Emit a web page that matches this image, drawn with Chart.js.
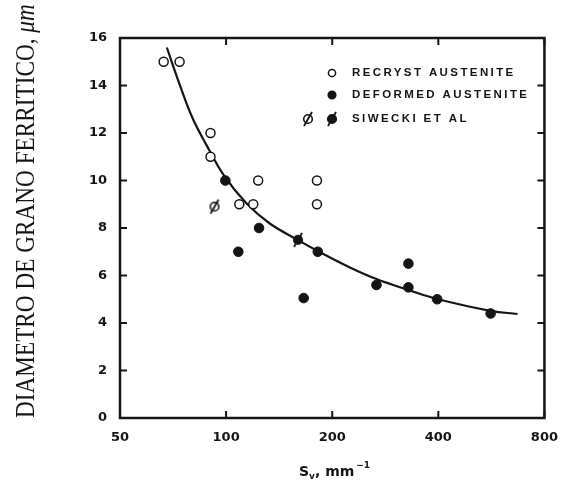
<!DOCTYPE html>
<html lang="es">
<head>
<meta charset="UTF-8">
<title>Diametro de grano ferritico vs Sv</title>
<script src="https://cdn.jsdelivr.net/npm/chart.js"></script>
<style>
  html, body { margin: 0; padding: 0; background: #fff; }
  #wrap { width: 570px; height: 491px; }
</style>
</head>
<body>
<div id="wrap"><canvas id="grainChart" width="570" height="491"></canvas></div>
<script>
// tick labels
const xTicks = [50, 100, 200, 400, 800];
const yTicks = [0, 2, 4, 6, 8, 10, 12, 14, 16];

// recrystallized austenite (open circles)
const recrystX = [66.5, 73.8, 90.3, 90.3, 123.3, 109, 119.4, 181, 181];
const recrystY = [15, 15, 12, 11, 10, 9, 9, 10, 9];

// deformed austenite (filled circles)
const deformedX = [99.5, 124, 108.3, 182, 166, 267, 329, 329, 397, 563];
const deformedY = [10, 8, 7, 7, 5.05, 5.6, 6.5, 5.5, 5, 4.4];

// Siwecki et al (slashed symbols)
const siweckiOpenX = [92.7];
const siweckiOpenY = [8.9];
const siweckiFilledX = [160];
const siweckiFilledY = [7.5];

// fitted curve
const curveX = [67.9, 73.8, 80.3, 88, 98.8, 114, 132.4, 160, 182, 223, 267, 329, 397, 563, 671];
const curveY = [15.6, 14.05, 12.63, 11.49, 10.19, 9.05, 8.21, 7.49, 7.03, 6.36, 5.85, 5.39, 5.01, 4.51, 4.38];

const ink = '#151515';

function pts(xs, ys) {
    return xs.map((x, i) => ({ x: x, y: ys[i] }));
}

// slashed circle symbol
function slashed(filled) {
    const c = document.createElement('canvas');
    c.width = 18; c.height = 18;
    const g = c.getContext('2d');
    g.strokeStyle = ink;
    g.fillStyle = filled ? ink : '#fff';
    g.lineWidth = 1.6;
    g.beginPath();
    g.arc(9, 9, 4.3, 0, Math.PI * 2);
    g.fill();
    g.stroke();
    g.lineWidth = 1.8;
    g.beginPath();
    g.moveTo(5, 16);
    g.lineTo(13, 2);
    g.stroke();
    return c;
}
const slashOpen = slashed(false);
const slashFilled = slashed(true);

function drawCircle(ctx, x, y, r, filled) {
    ctx.beginPath();
    ctx.arc(x, y, r, 0, Math.PI * 2);
    ctx.fillStyle = filled ? ink : '#fff';
    ctx.fill();
    ctx.lineWidth = 1.5;
    ctx.strokeStyle = ink;
    ctx.stroke();
}

const framePlugin = {
    id: 'frame',
    afterDraw(chart) {
        const ctx = chart.ctx;
        const a = chart.chartArea;
        const sx = chart.scales.x;
        const sy = chart.scales.y;
        ctx.save();

        // frame
        ctx.strokeStyle = ink;
        ctx.lineWidth = 2.5;
        ctx.strokeRect(a.left, a.top, a.right - a.left, a.bottom - a.top);

        // inward ticks on all sides
        ctx.lineWidth = 2;
        const tl = 7;
        yTicks.forEach(v => {
            const y = sy.getPixelForValue(v);
            ctx.beginPath();
            ctx.moveTo(a.left, y); ctx.lineTo(a.left + tl, y);
            ctx.moveTo(a.right, y); ctx.lineTo(a.right - tl, y);
            ctx.stroke();
        });
        xTicks.forEach(v => {
            const x = sx.getPixelForValue(v);
            ctx.beginPath();
            ctx.moveTo(x, a.bottom); ctx.lineTo(x, a.bottom - tl);
            ctx.moveTo(x, a.top); ctx.lineTo(x, a.top + tl);
            ctx.stroke();
        });

        // legend
        const lx = 352;
        const rows = [73, 95, 119];
        drawCircle(ctx, 332, rows[0], 3.6, false);
        drawCircle(ctx, 332, rows[1], 3.8, true);
        ctx.drawImage(slashOpen, 308 - 9, rows[2] - 9);
        ctx.drawImage(slashFilled, 332 - 9, rows[2] - 9);
        ctx.fillStyle = ink;
        ctx.font = 'bold 11.5px "Liberation Sans"';
        ctx.letterSpacing = '2.4px';
        ctx.textAlign = 'left';
        ctx.textBaseline = 'middle';
        ctx.fillText('RECRYST AUSTENITE', lx, rows[0]);
        ctx.fillText('DEFORMED AUSTENITE', lx, rows[1]);
        ctx.fillText('SIWECKI ET AL', lx, rows[2]);
        ctx.letterSpacing = '0px';

        // x axis title: S_v, mm^-1
        ctx.font = 'bold 14px "DejaVu Sans"';
        ctx.textBaseline = 'alphabetic';
        let tx = 299;
        const by = 476;
        ctx.fillText('S', tx, by);
        tx += ctx.measureText('S').width;
        ctx.font = 'bold 9px "DejaVu Sans"';
        ctx.fillText('v', tx, by + 3);
        tx += ctx.measureText('v').width;
        ctx.font = 'bold 14px "DejaVu Sans"';
        ctx.fillText(', mm', tx, by);
        tx += ctx.measureText(', mm').width + 2;
        ctx.font = 'bold 9px "DejaVu Sans"';
        ctx.fillText('\u22121', tx, by - 8);

        // y axis title, rotated
        const t1 = 'DIAMETRO DE GRANO FERRITICO, ';
        const t2 = '\u03bcm';
        ctx.font = '20px "Liberation Serif"';
        const w1 = ctx.measureText(t1).width;
        ctx.font = 'italic 20px "Liberation Serif"';
        const w2 = ctx.measureText(t2).width;
        const fs = 20 * 414 / (w1 + w2);
        ctx.translate(34, 418);
        ctx.rotate(-Math.PI / 2);
        ctx.scale(1, 1.15);
        ctx.font = fs + 'px "Liberation Serif"';
        ctx.fillText(t1, 0, 0);
        const w1s = ctx.measureText(t1).width;
        ctx.font = 'italic ' + fs + 'px "Liberation Serif"';
        ctx.fillText(t2, w1s, 0);

        ctx.restore();
    }
};

const ctx = document.getElementById('grainChart').getContext('2d');

new Chart(ctx, {
    type: 'scatter',
    data: {
        datasets: [
            {
                label: 'RECRYST AUSTENITE',
                data: pts(recrystX, recrystY),
                pointStyle: 'circle',
                pointRadius: 4.5,
                backgroundColor: '#fff',
                borderColor: ink,
                borderWidth: 1.5
            },
            {
                label: 'DEFORMED AUSTENITE',
                data: pts(deformedX, deformedY),
                pointStyle: 'circle',
                pointRadius: 4.8,
                backgroundColor: ink,
                borderColor: ink,
                borderWidth: 1
            },
            {
                label: 'SIWECKI ET AL',
                data: pts(siweckiOpenX, siweckiOpenY),
                pointStyle: slashOpen
            },
            {
                label: 'SIWECKI ET AL (deformed)',
                data: pts(siweckiFilledX, siweckiFilledY),
                pointStyle: slashFilled
            },
            {
                type: 'line',
                label: 'fit',
                data: pts(curveX, curveY),
                showLine: true,
                borderColor: ink,
                borderWidth: 2.2,
                pointRadius: 0,
                fill: false,
                tension: 0.4
            }
        ]
    },
    options: {
        responsive: false,
        animation: false,
        layout: { padding: { left: 0, right: 23, top: 38, bottom: 0 } },
        plugins: {
            legend: { display: false },
            tooltip: { enabled: false }
        },
        scales: {
            x: {
                type: 'logarithmic',
                min: 50,
                max: 800,
                afterBuildTicks: scale => { scale.ticks = xTicks.map(v => ({ value: v })); },
                afterFit: scale => { scale.height = 73; },
                grid: { display: false, drawTicks: false },
                border: { display: false },
                ticks: {
                    padding: 12,
                    color: ink,
                    font: { family: 'DejaVu Sans', size: 13, weight: 'bold' },
                    autoSkip: false,
                    maxRotation: 0,
                    callback: v => String(v)
                }
            },
            y: {
                min: 0,
                max: 16,
                afterBuildTicks: scale => { scale.ticks = yTicks.map(v => ({ value: v })); },
                afterFit: scale => { scale.width = 120; },
                grid: { display: false, drawTicks: false },
                border: { display: false },
                ticks: {
                    padding: 13,
                    color: ink,
                    font: { family: 'DejaVu Sans', size: 13, weight: 'bold' },
                    callback: v => String(v)
                }
            }
        }
    },
    plugins: [framePlugin]
});
</script>
</body>
</html>
